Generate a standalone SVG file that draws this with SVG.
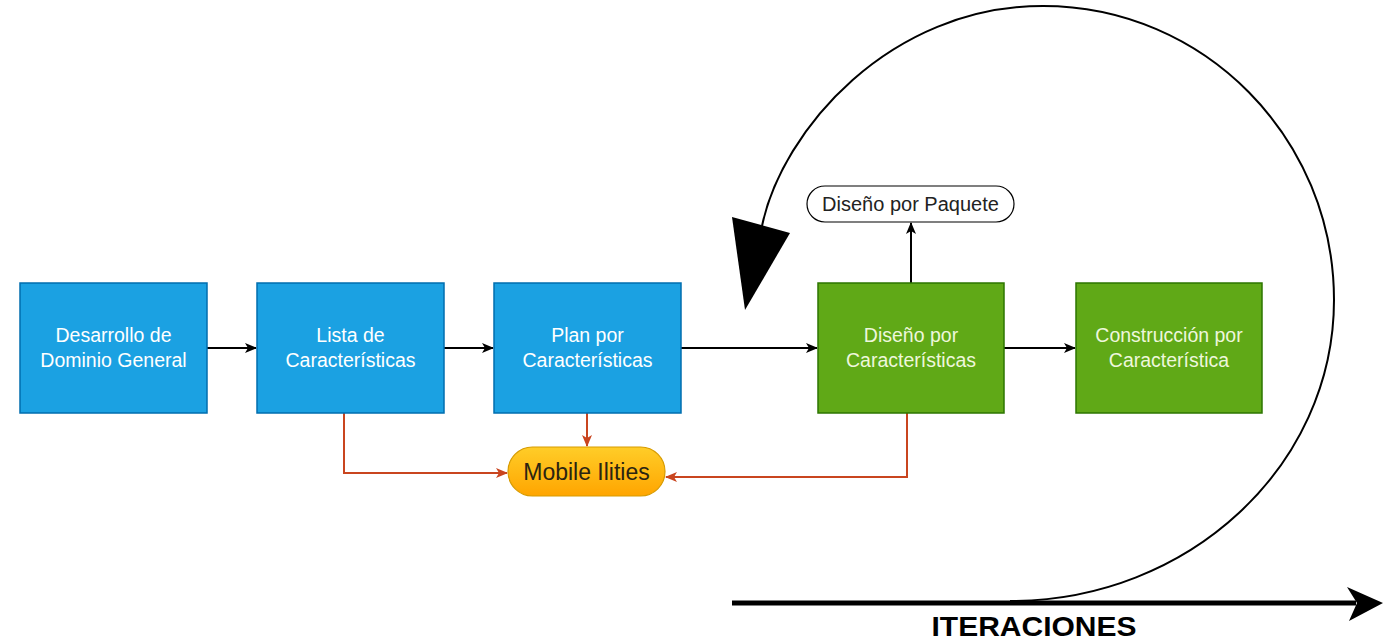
<svg xmlns="http://www.w3.org/2000/svg" width="1396" height="643" viewBox="0 0 1396 643">
  <defs>
    <marker id="arrBlack" viewBox="0 0 12 10" refX="11" refY="5" markerWidth="12" markerHeight="10" markerUnits="userSpaceOnUse" orient="auto">
      <path d="M0,0 L12,5 L0,10 L3,5 Z" fill="#000"/>
    </marker>
    <marker id="arrRed" viewBox="0 0 12 10" refX="11" refY="5" markerWidth="12" markerHeight="10" markerUnits="userSpaceOnUse" orient="auto">
      <path d="M0,0 L12,5 L0,10 L3,5 Z" fill="#c9451f"/>
    </marker>
    <linearGradient id="gOrange" x1="0" y1="0" x2="0" y2="1">
      <stop offset="0" stop-color="#ffcd28"/>
      <stop offset="1" stop-color="#ffa500"/>
    </linearGradient>
    <style>
      .blue { fill: #1ba1e2; stroke: #006eaf; stroke-width: 1.5; }
      .green { fill: #60a917; stroke: #2d7600; stroke-width: 1.5; }
      .lbl { font-family: "Liberation Sans", Arial, sans-serif; font-size: 19.5px; fill: #ffffff; text-anchor: middle; }
      .glbl { fill: #eef7dc; }
      .con { fill: none; stroke: #000; stroke-width: 2; }
      .red { fill: none; stroke: #c9451f; stroke-width: 2; }
    </style>
  </defs>
  <rect width="1396" height="643" fill="#ffffff"/>

  <g id="connectors">
    <line class="con" x1="207" y1="348" x2="256" y2="348" marker-end="url(#arrBlack)"/>
    <line class="con" x1="444" y1="348" x2="493" y2="348" marker-end="url(#arrBlack)"/>
    <line class="con" x1="681" y1="348" x2="817" y2="348" marker-end="url(#arrBlack)"/>
    <line class="con" x1="1004" y1="348" x2="1075" y2="348" marker-end="url(#arrBlack)"/>
    <line class="con" x1="911" y1="283" x2="911" y2="223" marker-end="url(#arrBlack)"/>
    <polyline class="red" points="344,413 344,473 507,473" marker-end="url(#arrRed)"/>
    <line class="red" x1="587" y1="413" x2="587" y2="446" marker-end="url(#arrRed)"/>
    <polyline class="red" points="907,413 907,477 666,477" marker-end="url(#arrRed)"/>
    <!-- iteration loop -->
    <path d="M1010,601 C1189,601 1334,466 1334,300 C1334,138 1204,6 1043,6 C890,6 782,130 762,226" fill="none" stroke="#000" stroke-width="2"/>
    <polygon points="732,217 790,233 745,310" fill="#000"/>
    <!-- iterations axis -->
    <line x1="732" y1="603" x2="1356" y2="603" stroke="#000" stroke-width="5"/>
    <polygon points="1347,587 1383,603 1349,621 1357,603" fill="#000"/>
  </g>

  <g id="n1">
    <rect class="blue" x="20" y="283" width="187" height="130"/>
    <text class="lbl" x="113.5" y="342">Desarrollo de</text>
    <text class="lbl" x="113.5" y="367">Dominio General</text>
  </g>
  <g id="n2">
    <rect class="blue" x="257" y="283" width="187" height="130"/>
    <text class="lbl" x="350.5" y="342">Lista de</text>
    <text class="lbl" x="350.5" y="367">Características</text>
  </g>
  <g id="n3">
    <rect class="blue" x="494" y="283" width="187" height="130"/>
    <text class="lbl" x="587.5" y="342">Plan por</text>
    <text class="lbl" x="587.5" y="367">Características</text>
  </g>
  <g id="n4">
    <rect class="green" x="818" y="283" width="186" height="130"/>
    <text class="lbl glbl" x="911" y="342">Diseño por</text>
    <text class="lbl glbl" x="911" y="367">Características</text>
  </g>
  <g id="n5">
    <rect class="green" x="1076" y="283" width="186" height="130"/>
    <text class="lbl glbl" x="1169" y="342">Construcción por</text>
    <text class="lbl glbl" x="1169" y="367">Característica</text>
  </g>
  <g id="n6">
    <rect x="807" y="186" width="207" height="36" rx="18" ry="18" fill="#ffffff" stroke="#000" stroke-width="1.2"/>
    <text x="910.5" y="211" font-family="Liberation Sans, Arial, sans-serif" font-size="20" fill="#222" text-anchor="middle">Diseño por Paquete</text>
  </g>
  <g id="n7">
    <rect x="508" y="447" width="157" height="49" rx="24.5" ry="24.5" fill="url(#gOrange)" stroke="#d79b00" stroke-width="1.2"/>
    <text x="586.5" y="480" font-family="Liberation Sans, Arial, sans-serif" font-size="23" fill="#2b2411" text-anchor="middle">Mobile Ilities</text>
  </g>
  <g id="n8">
    <text x="1034" y="636" font-family="Liberation Sans, Arial, sans-serif" font-size="28" font-weight="bold" fill="#000" text-anchor="middle" textLength="205" lengthAdjust="spacingAndGlyphs">ITERACIONES</text>
  </g>
</svg>
